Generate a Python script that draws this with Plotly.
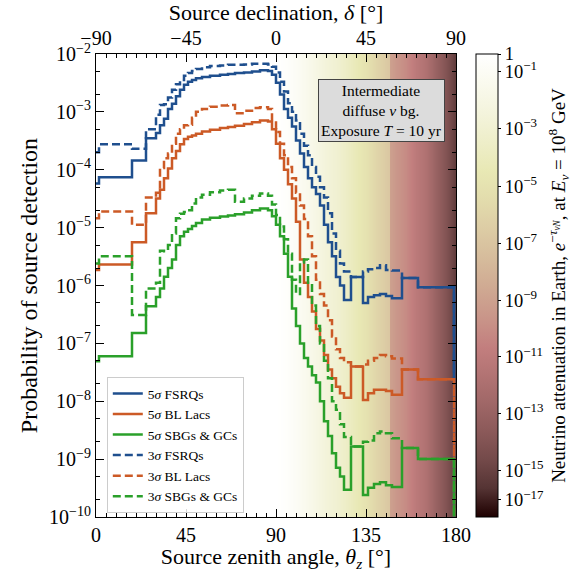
import numpy as np
import plotly.graph_objects as go

# ---------------- data ----------------
zenith_edges = [0, 1.5, 18, 25, 30, 32, 34, 36, 38, 40, 42, 44, 46, 48, 50, 53, 57, 62, 66, 69.5,
                74, 78, 82, 86, 88, 90, 92, 94, 96, 98, 100, 102, 104, 106, 108, 110, 112, 114, 116,
                118, 120, 122, 124, 127.5, 133.5, 136, 139, 142, 145, 148, 153, 161, 179, 180]

p5_fsrq = [5.8e-5, 7.4e-5, 1.45e-4, 3.5e-4, 4.3e-4, 5.9e-4, 7.6e-4, 1.12e-3, 1.38e-3, 1.86e-3,
           2.4e-3, 2.95e-3, 3.3e-3, 3.55e-3, 3.8e-3, 4.0e-3, 4.2e-3, 4.4e-3, 4.5e-3, 4.7e-3,
           4.8e-3, 5.0e-3, 5.25e-3, 5.1e-3, 4.4e-3, 3.2e-3, 2.0e-3, 1.12e-3, 7.9e-4, 5.6e-4,
           3.2e-4, 1.9e-4, 1.12e-4, 7.1e-5, 5.0e-5, 3.8e-5, 2.4e-5, 1.12e-5, 5.6e-6, 3.2e-6,
           1.4e-6, 1.0e-6, 5.6e-7, 1.4e-6, 5.0e-7, 6.3e-7, 6.8e-7, 7.1e-7, 6.6e-7, 6.0e-7,
           1.35e-6, 9.3e-7, 1e-12]
p5_bllac = [1.86e-6, 2.3e-6, 5.6e-6, 1.78e-5, 3.2e-5, 4.5e-5, 7.1e-5, 1.05e-4, 1.58e-4, 2.1e-4,
            2.75e-4, 3.4e-4, 3.7e-4, 3.9e-4, 4.2e-4, 4.6e-4, 4.9e-4, 5.25e-4, 5.5e-4, 5.75e-4,
            6.2e-4, 6.6e-4, 7.1e-4, 6.8e-4, 5.0e-4, 2.8e-4, 1.58e-4, 1.0e-4, 5.6e-5, 3.2e-5,
            1.26e-5, 2.8e-6, 1.12e-6, 6.3e-7, 3.55e-7, 1.78e-7, 1.12e-7, 6.3e-8, 3.55e-8, 2.5e-8,
            1.78e-8, 1.38e-8, 1.15e-8, 4.0e-8, 1.05e-8, 1.38e-8, 1.58e-8, 1.58e-8, 1.51e-8, 1.29e-8,
            3.55e-8, 2.4e-8, 1e-12]
p5_sbg = [4.9e-8, 6.0e-8, 1.51e-7, 4.4e-7, 6.3e-7, 8.9e-7, 1.41e-6, 2.0e-6, 2.8e-6, 5.0e-6,
          7.1e-6, 8.5e-6, 9.5e-6, 1.07e-5, 1.2e-5, 1.38e-5, 1.48e-5, 1.55e-5, 1.62e-5, 1.7e-5,
          1.82e-5, 2.0e-5, 2.14e-5, 2.0e-5, 1.58e-5, 1.12e-5, 7.1e-6, 3.55e-6, 1.41e-6, 4.0e-7,
          2.0e-7, 1.0e-7, 5.6e-8, 4.0e-8, 2.8e-8, 2.1e-8, 1.0e-8, 4.5e-9, 2.5e-9, 1.26e-9,
          7.1e-10, 5.0e-10, 2.95e-10, 1.66e-9, 2.4e-10, 3.2e-10, 3.7e-10, 4.0e-10, 3.55e-10, 3.3e-10,
          1.55e-9, 1.0e-9, 1e-12]
p3_fsrq = [2.0e-4, 2.75e-4, 2.3e-4, 5.0e-4, 8.9e-4, 1.32e-3, 1.35e-3, 1.78e-3, 2.4e-3, 3.0e-3,
           3.55e-3, 4.2e-3, 4.7e-3, 5.1e-3, 5.5e-3, 5.9e-3, 6.2e-3, 6.3e-3, 6.5e-3, 6.5e-3,
           6.6e-3, 6.8e-3, 6.8e-3, 6.6e-3, 6.0e-3, 4.8e-3, 3.3e-3, 2.24e-3, 1.41e-3, 1.0e-3,
           7.1e-4, 4.2e-4, 2.6e-4, 1.78e-4, 1.12e-4, 7.6e-5, 5.0e-5, 3.3e-5, 1.78e-5, 7.9e-6,
           4.0e-6, 2.4e-6, 1.74e-6, 1.4e-6, 1.74e-6, 1.9e-6, 2.0e-6, 2.24e-6, 1.86e-6, 1.82e-6,
           1.35e-6, 9.3e-7, 1e-12]
p3_bllac = [1.45e-5, 1.9e-5, 1.12e-5, 3.3e-5, 4.0e-5, 1.07e-4, 1.58e-4, 1.9e-4, 2.8e-4, 4.2e-4,
            5.0e-4, 5.9e-4, 6.0e-4, 7.9e-4, 1.0e-3, 1.12e-3, 1.23e-3, 1.29e-3, 1.32e-3, 9.5e-4,
            1.05e-3, 1.17e-3, 1.2e-3, 1.12e-3, 7.1e-4, 4.5e-4, 2.8e-4, 1.78e-4, 1.12e-4, 7.1e-5,
            4.0e-5, 2.4e-5, 1.41e-5, 7.1e-6, 3.2e-6, 1.26e-6, 7.1e-7, 4.5e-7, 2.5e-7, 1.32e-7,
            7.9e-8, 5.6e-8, 4.7e-8, 4.0e-8, 4.3e-8, 5.0e-8, 5.6e-8, 6.3e-8, 6.0e-8, 5.5e-8,
            3.55e-8, 2.4e-8, 1e-12]
p3_sbg = [2.4e-6, 3.2e-6, 3.1e-7, 8.9e-7, 1.12e-6, 4.0e-6, 3.9e-6, 5.0e-6, 7.9e-6, 1.45e-5,
          1.74e-5, 1.86e-5, 2.0e-5, 2.6e-5, 3.3e-5, 3.7e-5, 4.1e-5, 4.4e-5, 4.5e-5, 2.8e-5,
          3.2e-5, 3.55e-5, 3.9e-5, 3.55e-5, 2.5e-5, 1.66e-5, 1.05e-5, 6.3e-6, 3.55e-6, 1.26e-6,
          7.1e-7, 2.5e-6, 2.8e-6, 1.12e-6, 4.5e-7, 2.0e-7, 1.0e-7, 5.0e-8, 2.5e-8, 1.0e-8,
          7.1e-9, 4.0e-9, 2.4e-9, 1.66e-9, 2.0e-9, 2.1e-9, 2.8e-9, 3.0e-9, 2.8e-9, 2.3e-9,
          1.55e-9, 1.0e-9, 1e-12]

# Earth attenuation e^{-tau} versus zenith angle (background / colour bar)
att_zenith = [0, 90, 95, 100, 105, 110, 115, 120, 125, 130, 135, 140, 146.8, 147.2,
              150, 155, 160, 165, 170, 175, 178, 180]
att_value = [1, 1, 0.4, 0.1, 0.032, 0.01, 2.5e-3, 1e-3, 2.5e-4, 5e-5, 1e-5, 1.26e-6, 1.26e-7,
             1e-9, 3.2e-10, 7.9e-11, 7.9e-12, 1.6e-12, 1e-13, 1e-14, 1.6e-15, 2.5e-16]

zenith_ticks = [0, 45, 90, 135, 180]
declination_ticks = [-90, -45, 0, 45, 90]
declination_labels = ["−90", "−45", "0", "45", "90"]
prob_tick_exp = list(range(-10, -1))
# colour-bar ticks (powers of ten) and their fractional height along the bar
att_tick_exp = [0, -1, -3, -5, -7, -9, -11, -13, -15, -17]
att_tick_frac = [1.0, 0.963, 0.840, 0.714, 0.591, 0.468, 0.346, 0.223, 0.100, 0.037]

series = [
    ("5<i>σ</i> FSRQs", p5_fsrq, "#1f4f8e", "solid"),
    ("5<i>σ</i> BL Lacs", p5_bllac, "#cc5a26", "solid"),
    ("5<i>σ</i> SBGs & GCs", p5_sbg, "#2aa02a", "solid"),
    ("3<i>σ</i> FSRQs", p3_fsrq, "#1f4f8e", "8px,4px"),
    ("3<i>σ</i> BL Lacs", p3_bllac, "#cc5a26", "8px,4px"),
    ("3<i>σ</i> SBGs & GCs", p3_sbg, "#2aa02a", "8px,4px"),
]

# matplotlib-like "pink" colormap
pink_scale = [
    [0.0, "#1e0000"], [0.0625, "#553434"], [0.125, "#744a4a"], [0.1875, "#8c5a5a"],
    [0.25, "#a16868"], [0.31, "#b37474"], [0.365, "#c27e7e"], [0.43, "#c99589"],
    [0.5, "#d0ab93"], [0.56, "#d6bc9c"], [0.625, "#ddcda5"], [0.69, "#e3ddad"],
    [0.746, "#e8e8b4"], [0.81, "#eeeec9"], [0.875, "#f4f4dd"], [0.94, "#fafaef"],
    [1.0, "#ffffff"],
]

FONT = "Liberation Serif"

fig = go.Figure()

# colour-bar normalisation: position along the bar as a function of log10(attenuation)
att_log = np.log10(np.array(att_value, dtype=float))
att_pos = np.interp(att_log, att_tick_exp[::-1], att_tick_frac[::-1])
fig.add_trace(go.Heatmap(
    x=att_zenith, y=[-1, 2], z=[att_pos, att_pos], zsmooth="best",
    colorscale=pink_scale, zmin=0, zmax=1, xaxis="x", yaxis="y",
    hoverinfo="skip", showlegend=False,
    colorbar=dict(
        x=1.055, xanchor="left", y=0.5, yanchor="middle", len=1, lenmode="fraction",
        thickness=22, thicknessmode="pixels", xpad=0, ypad=0,
        outlinecolor="black", outlinewidth=1,
        tickvals=att_tick_frac,
        ticktext=["1"] + ["10<sup>−%d</sup>" % (-e) for e in att_tick_exp[1:]],
        ticks="outside", ticklen=3, tickcolor="black",
        tickfont=dict(family=FONT, size=18.5, color="black"),
        title=dict(text="Neutrino attenuation in Earth, <i>e</i><sup>−<i>τ</i><sub><i>νN</i></sub></sup>, at <i>E</i><sub><i>ν</i></sub> = 10<sup>8</sup> GeV",
                   side="right", font=dict(family=FONT, size=19, color="black")),
    ),
))

for name, vals, color, dash in series:
    fig.add_trace(go.Scatter(
        x=zenith_edges, y=list(vals) + [vals[-1]], mode="lines", name=name,
        line=dict(shape="hv", color=color, width=2.5, dash=dash),
        xaxis="x", yaxis="y2",
    ))

# invisible trace so that the top (declination) axis exists
fig.add_trace(go.Scatter(x=[None], y=[None], xaxis="x2", yaxis="y2", showlegend=False,
                         hoverinfo="skip"))

tickfont = dict(family=FONT, size=20, color="black")
titlefont = dict(family=FONT, size=22, color="black")

fig.update_layout(
    width=573, height=572,
    margin=dict(l=96, r=117, t=54, b=55, autoexpand=False),
    paper_bgcolor="white", plot_bgcolor="white",
    font=dict(family=FONT, color="black"),
    xaxis=dict(range=[0, 180], tickvals=zenith_ticks, ticks="inside", ticklen=8, tickwidth=1,
               tickcolor="black", showline=True, linecolor="black", linewidth=1, showgrid=False,
               zeroline=False, tickfont=tickfont,
               minor=dict(dtick=5, ticks="inside", ticklen=4, tickcolor="black", showgrid=False),
               title=dict(text="Source zenith angle, <i>θ</i><sub><i>z</i></sub> [°]", font=titlefont, standoff=2),
               automargin=False),
    xaxis2=dict(range=[-90, 90], overlaying="x", side="top", anchor="y2",
                tickvals=declination_ticks, ticktext=declination_labels,
                ticks="inside", ticklen=8, tickcolor="black", showline=True, linecolor="black",
                linewidth=1, showgrid=False, zeroline=False, tickfont=tickfont,
                minor=dict(dtick=5, ticks="inside", ticklen=4, tickcolor="black", showgrid=False),
                title=dict(text="Source declination, <i>δ</i> [°]", font=titlefont, standoff=4),
                automargin=False),
    yaxis=dict(range=[0, 1], visible=False, fixedrange=True),
    yaxis2=dict(type="log", range=[-10, -2], overlaying="y", side="left", anchor="x",
                tickvals=[10.0 ** e for e in prob_tick_exp],
                ticktext=["10<sup>−%d</sup>" % (-e) for e in prob_tick_exp],
                ticks="inside", ticklen=8, tickcolor="black", showline=True, linecolor="black",
                linewidth=1, mirror="ticks", showgrid=False, zeroline=False, tickfont=tickfont,
                minor=dict(ticks="inside", ticklen=4, tickcolor="black", showgrid=False),
                title=dict(text="Probability of source detection",
                           font=dict(family=FONT, size=24, color="black"), standoff=4),
                automargin=False),
    legend=dict(x=0.03, y=0.302, xanchor="left", yanchor="top",
                bgcolor="rgba(255,255,255,0.85)", bordercolor="#cccccc", borderwidth=1,
                font=dict(family=FONT, size=13.5, color="black"), itemwidth=30,
                tracegroupgap=0),
    annotations=[dict(
        x=0.794, y=0.879, xref="paper", yref="paper", xanchor="center", yanchor="middle",
        text="Intermediate<br>diffuse <i>ν</i> bg.<br>Exposure <i>T</i> = 10 yr",
        showarrow=False, align="center", bgcolor="#dcdcdc", bordercolor="#444444",
        borderwidth=1, borderpad=2, font=dict(family=FONT, size=15.5, color="black"),
    )],
)

# remove the default 8px page margin so the 573x572 figure fills the window exactly
fig.write_html("out.html", config={"displayModeBar": False},
               post_script="document.body.style.margin='0';")
